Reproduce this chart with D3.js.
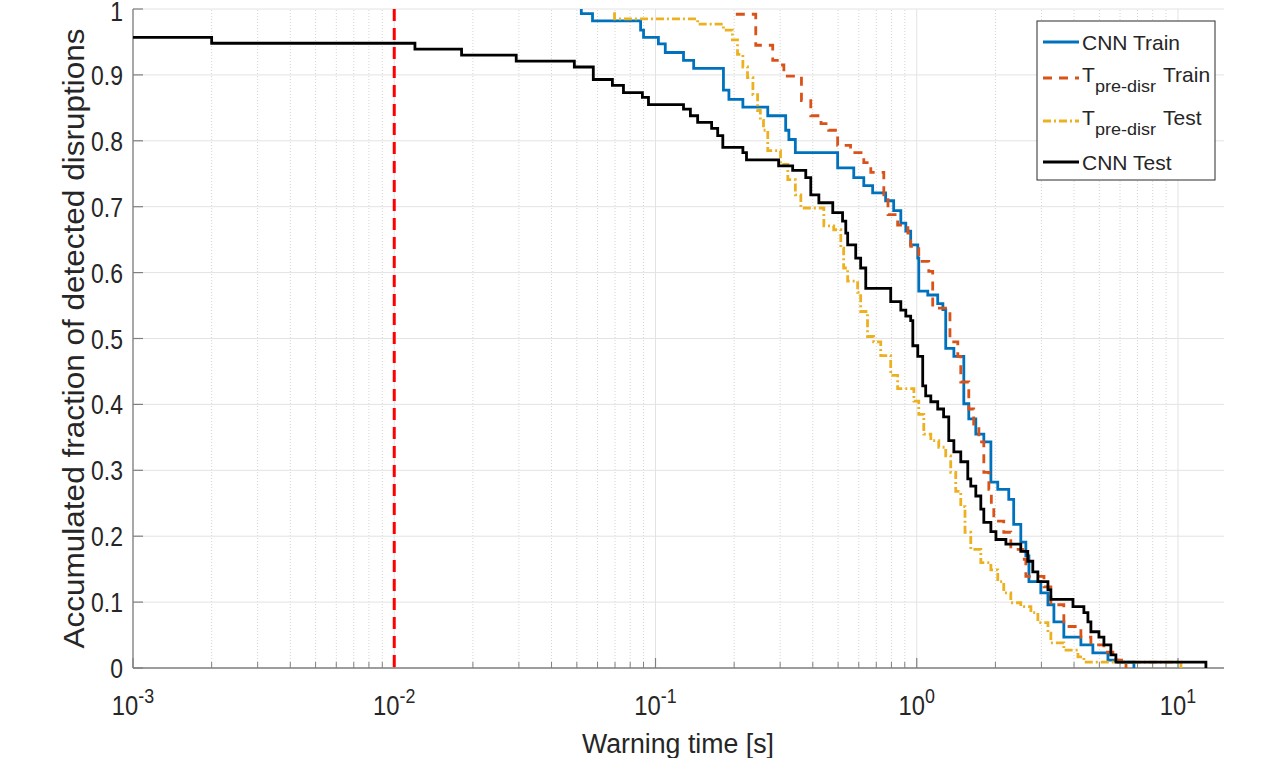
<!DOCTYPE html>
<html>
<head>
<meta charset="utf-8">
<script src="https://cdnjs.cloudflare.com/ajax/libs/d3/7.8.5/d3.min.js"></script>
<style>
  body { margin: 0; background: #fff; }
  text { font-family: "Liberation Sans", Arial, sans-serif; fill: #262626; }
</style>
</head>
<body>
<div id="chartContainer"></div>
<script>
// step curves: each point = [warning time (s), fraction] where a flat level starts
var cnnTrain = [
  [0.0520, 1.0], [0.0520, 0.993], [0.0574, 0.982], [0.0877, 0.968], [0.0900, 0.957],
  [0.1026, 0.947], [0.109, 0.934], [0.128, 0.922], [0.140, 0.910], [0.182, 0.877],
  [0.191, 0.863], [0.216, 0.851], [0.269, 0.838], [0.315, 0.816], [0.324, 0.802],
  [0.343, 0.782], [0.498, 0.759], [0.574, 0.744], [0.627, 0.732], [0.678, 0.721],
  [0.760, 0.709], [0.816, 0.694], [0.869, 0.675], [0.908, 0.663], [0.948, 0.642],
  [1.009, 0.622], [1.018, 0.572], [1.102, 0.566], [1.203, 0.553], [1.259, 0.544],
  [1.291, 0.485], [1.387, 0.473], [1.514, 0.401], [1.582, 0.378], [1.683, 0.355],
  [1.806, 0.343], [1.922, 0.282], [2.042, 0.271], [2.250, 0.256], [2.350, 0.218],
  [2.502, 0.191], [2.616, 0.170], [2.688, 0.131], [2.985, 0.114], [3.178, 0.096],
  [3.350, 0.070], [3.656, 0.047], [4.249, 0.035], [4.722, 0.023], [5.393, 0.012],
  [5.888, 0.009], [6.780, 0]
];

var preDisrTrain = [
  [0.203, 0.992], [0.242, 0.945], [0.281, 0.922], [0.301, 0.915], [0.310, 0.898],
  [0.362, 0.861], [0.393, 0.838], [0.430, 0.826], [0.460, 0.816], [0.498, 0.793],
  [0.558, 0.782], [0.627, 0.767], [0.667, 0.752], [0.748, 0.718], [0.776, 0.688],
  [0.845, 0.672], [0.925, 0.660], [0.948, 0.640], [1.018, 0.617], [1.112, 0.602],
  [1.151, 0.546], [1.340, 0.495], [1.436, 0.473], [1.474, 0.434], [1.582, 0.393],
  [1.652, 0.366], [1.729, 0.343], [1.806, 0.297], [1.888, 0.271], [1.930, 0.248],
  [1.972, 0.223], [2.153, 0.206], [2.291, 0.180], [2.547, 0.165], [2.616, 0.139],
  [3.069, 0.123], [3.261, 0.096], [3.656, 0.063], [4.249, 0.047], [4.641, 0.035],
  [5.205, 0.024], [5.634, 0.012], [6.324, 0]
];

var preDisrTest = [
  [0.0697, 0.995], [0.0697, 0.985], [0.145, 0.977], [0.182, 0.968], [0.197, 0.953],
  [0.206, 0.931], [0.216, 0.912], [0.225, 0.896], [0.236, 0.870], [0.246, 0.846],
  [0.252, 0.831], [0.259, 0.816], [0.269, 0.785], [0.301, 0.764], [0.321, 0.741],
  [0.343, 0.718], [0.360, 0.698], [0.441, 0.671], [0.481, 0.665], [0.512, 0.637],
  [0.525, 0.607], [0.544, 0.587], [0.594, 0.570], [0.610, 0.541], [0.648, 0.503],
  [0.684, 0.495], [0.728, 0.474], [0.795, 0.444], [0.845, 0.424], [0.975, 0.405],
  [1.018, 0.385], [1.064, 0.355], [1.132, 0.345], [1.214, 0.335], [1.291, 0.322],
  [1.349, 0.297], [1.410, 0.268], [1.474, 0.245], [1.530, 0.206], [1.610, 0.180],
  [1.759, 0.160], [1.922, 0.149], [2.042, 0.131], [2.153, 0.114], [2.291, 0.099],
  [2.502, 0.093], [2.735, 0.084], [2.908, 0.069], [3.178, 0.053], [3.261, 0.038],
  [3.656, 0.027], [4.140, 0.017], [4.363, 0.009], [10.26, 0]
];

var cnnTest = [
  [0.001, 0.957], [0.0020, 0.948], [0.0120, 0.939], [0.0181, 0.930], [0.0293, 0.921],
  [0.0489, 0.912], [0.0578, 0.893], [0.0684, 0.884], [0.0754, 0.873], [0.0891, 0.866],
  [0.0940, 0.855], [0.128, 0.848], [0.136, 0.838], [0.145, 0.828], [0.164, 0.819],
  [0.173, 0.808], [0.181, 0.790], [0.216, 0.782], [0.223, 0.771], [0.296, 0.762],
  [0.335, 0.755], [0.376, 0.744], [0.393, 0.718], [0.422, 0.706], [0.477, 0.691],
  [0.520, 0.678], [0.535, 0.660], [0.544, 0.642], [0.584, 0.622], [0.610, 0.607],
  [0.638, 0.576], [0.795, 0.556], [0.869, 0.543], [0.908, 0.534], [0.948, 0.527],
  [0.966, 0.489], [1.009, 0.473], [1.054, 0.428], [1.082, 0.413], [1.132, 0.404],
  [1.203, 0.393], [1.267, 0.381], [1.326, 0.345], [1.387, 0.328], [1.474, 0.313],
  [1.568, 0.287], [1.610, 0.276], [1.683, 0.261], [1.759, 0.241], [1.806, 0.221],
  [1.922, 0.207], [2.010, 0.195], [2.194, 0.188], [2.502, 0.177], [2.661, 0.162],
  [2.781, 0.146], [2.908, 0.131], [3.178, 0.119], [3.261, 0.104], [3.963, 0.093],
  [4.363, 0.084], [4.521, 0.070], [4.641, 0.055], [4.981, 0.047], [5.205, 0.035],
  [5.534, 0.020], [5.785, 0.009], [12.79, 0]
];

var xExponents = [-3, -2, -1, 0, 1];
var yTicks = [0, 0.1, 0.2, 0.3, 0.4, 0.5, 0.6, 0.7, 0.8, 0.9, 1];
var thresholdTime = 0.01;

var series = [
  { name: "CNN Train", data: cnnTrain, color: "#0072BD", dash: null },
  { name: "Tpre Train", data: preDisrTrain, color: "#D95319", dash: "9,7" },
  { name: "Tpre Test", data: preDisrTest, color: "#EDB120", dash: "8,3,2,3" },
  { name: "CNN Test", data: cnnTest, color: "#000000", dash: null }
];

var svg = d3.select("#chartContainer").append("svg")
  .attr("width", 1271).attr("height", 758);

var x = d3.scaleLog().domain([0.001, 15]).range([133, 1224]);
var y = d3.scaleLinear().domain([0, 1]).range([668, 9]);

// minor x gridlines (dotted)
var minorX = [];
xExponents.forEach(function (e) {
  for (var k = 2; k <= 9; k++) {
    var v = k * Math.pow(10, e);
    if (v < 15) minorX.push(v);
  }
});
svg.append("g").selectAll("line").data(minorX).enter().append("line")
  .attr("x1", function (d) { return x(d); }).attr("x2", function (d) { return x(d); })
  .attr("y1", y(0)).attr("y2", y(1))
  .style("stroke", "#d4d4d4").style("stroke-width", 1).style("stroke-dasharray", "1,2");

// major gridlines
svg.append("g").selectAll("line").data(xExponents).enter().append("line")
  .attr("x1", function (d) { return x(Math.pow(10, d)); }).attr("x2", function (d) { return x(Math.pow(10, d)); })
  .attr("y1", y(0)).attr("y2", y(1))
  .style("stroke", "#e3e3e3").style("stroke-width", 1);
svg.append("g").selectAll("line").data(yTicks).enter().append("line")
  .attr("x1", x(0.001)).attr("x2", x(15))
  .attr("y1", function (d) { return y(d); }).attr("y2", function (d) { return y(d); })
  .style("stroke", "#e3e3e3").style("stroke-width", 1);

// axes lines and inward ticks
svg.append("line").attr("x1", x(0.001)).attr("x2", x(0.001)).attr("y1", y(0)).attr("y2", y(1))
  .style("stroke", "#808080").style("stroke-width", 1.3);
svg.append("line").attr("x1", x(0.001)).attr("x2", x(15)).attr("y1", y(0)).attr("y2", y(0))
  .style("stroke", "#808080").style("stroke-width", 1.3);
svg.append("g").selectAll("line").data(yTicks).enter().append("line")
  .attr("x1", x(0.001)).attr("x2", x(0.001) + 10)
  .attr("y1", function (d) { return y(d); }).attr("y2", function (d) { return y(d); })
  .style("stroke", "#808080").style("stroke-width", 1.2);
svg.append("g").selectAll("line").data(xExponents).enter().append("line")
  .attr("x1", function (d) { return x(Math.pow(10, d)); }).attr("x2", function (d) { return x(Math.pow(10, d)); })
  .attr("y1", y(0)).attr("y2", y(0) - 10)
  .style("stroke", "#808080").style("stroke-width", 1.2);
svg.append("g").selectAll("line").data(minorX).enter().append("line")
  .attr("x1", function (d) { return x(d); }).attr("x2", function (d) { return x(d); })
  .attr("y1", y(0)).attr("y2", y(0) - 6)
  .style("stroke", "#808080").style("stroke-width", 1);

// tick labels (narrow look of the original)
function squeezed(px, py, anchor, size) {
  return svg.append("text")
    .attr("transform", "translate(" + px + "," + py + ") scale(0.85,1)")
    .attr("text-anchor", anchor)
    .style("font-size", size + "px");
}
yTicks.forEach(function (v) {
  squeezed(123, Math.max(y(v) + 10, 21), "end", 27).text(String(+v.toFixed(1)));
});
xExponents.forEach(function (e) {
  var t = squeezed(x(Math.pow(10, e)), 715, "middle", 28);
  t.append("tspan").text("10");
  t.append("tspan").attr("dy", -12).style("font-size", "21px").text(String(e));
});

// axis titles
svg.append("text")
  .attr("transform", "translate(84," + ((y(0) + y(1)) / 2) + ") rotate(-90)")
  .attr("text-anchor", "middle")
  .attr("textLength", 620).attr("lengthAdjust", "spacingAndGlyphs")
  .style("font-size", "30px")
  .text("Accumulated fraction of detected disruptions");
svg.append("text")
  .attr("x", 678).attr("y", 753)
  .attr("text-anchor", "middle")
  .attr("textLength", 192).attr("lengthAdjust", "spacingAndGlyphs")
  .style("font-size", "27px")
  .text("Warning time [s]");

// curves
svg.append("clipPath").attr("id", "plotClip").append("rect")
  .attr("x", x(0.001)).attr("y", y(1) - 2).attr("width", x(15) - x(0.001)).attr("height", y(0) - y(1) + 4);

var line = d3.line()
  .x(function (d) { return x(d[0]); })
  .y(function (d) { return y(d[1]); })
  .curve(d3.curveStepAfter);

var curves = svg.append("g").attr("clip-path", "url(#plotClip)");
series.forEach(function (s) {
  curves.append("path")
    .datum(s.data)
    .attr("d", line)
    .style("fill", "none")
    .style("stroke", s.color)
    .style("stroke-width", 2.8)
    .style("stroke-dasharray", s.dash);
});

// threshold line at 10 ms
svg.append("line")
  .attr("x1", x(thresholdTime)).attr("x2", x(thresholdTime))
  .attr("y1", y(1)).attr("y2", y(0))
  .style("stroke", "#FF0000").style("stroke-width", 3)
  .style("stroke-dasharray", "12,7");

// legend
var legend = svg.append("g");
legend.append("rect")
  .attr("x", 1037).attr("y", 21).attr("width", 178).attr("height", 159)
  .style("fill", "#fff").style("stroke", "#2b2b2b").style("stroke-width", 1);

var legendRows = [
  { lineY: 42, base: 50 },
  { lineY: 78, base: 82 },
  { lineY: 121, base: 125 },
  { lineY: 162, base: 170 }
];
series.forEach(function (s, i) {
  var r = legendRows[i];
  legend.append("line")
    .attr("x1", 1043).attr("x2", 1079).attr("y1", r.lineY).attr("y2", r.lineY)
    .style("stroke", s.color).style("stroke-width", 2.8)
    .style("stroke-dasharray", s.dash);
  if (s.name.indexOf("Tpre") === 0) {
    var t = legend.append("text").attr("y", r.base).style("font-size", "21px");
    t.append("tspan").attr("x", 1082).text("T");
    t.append("tspan").attr("x", 1095).attr("dy", 10)
      .attr("textLength", 61).attr("lengthAdjust", "spacingAndGlyphs")
      .style("font-size", "16px").text("pre-disr");
    t.append("tspan").attr("x", 1163).attr("dy", -10).text(s.name.split(" ")[1]);
  } else {
    legend.append("text").attr("x", 1082).attr("y", r.base)
      .style("font-size", "21px").text(s.name);
  }
});
</script>
</body>
</html>
